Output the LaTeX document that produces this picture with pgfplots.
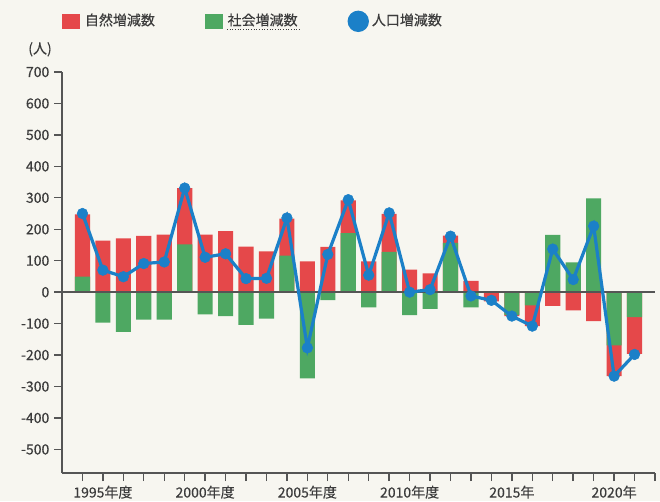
\documentclass[border=0pt]{standalone}
\usepackage{pgfplots}
\pgfplotsset{compat=1.18}
\usepackage{pgfplotstable}
\usepackage{fontspec}
\setmainfont{Noto Sans CJK JP}[FakeBold=0.35]
\definecolor{natred}{RGB}{229,72,74}
\definecolor{socgreen}{RGB}{78,168,98}
\definecolor{popblue}{RGB}{27,128,200}
\definecolor{axgray}{RGB}{85,85,85}
\definecolor{paper}{RGB}{247,246,240}
\definecolor{txt}{RGB}{60,60,60}

\pgfplotstableread{
year nat soc pop
1994 198 49 250
1995 164 -97 70
1996 171 -126 49
1997 179 -87 91
1998 183 -87 96
1999 179 152 331
2000 183 -71 111
2001 194 -76 122
2002 145 -104 43
2003 130 -84 44
2004 118 116 236
2005 98 -274 -177
2006 144 -25 120
2007 104 188 294
2008 98 -48 54
2009 121 128 252
2010 72 -73 0
2011 60 -53 8
2012 23 157 178
2013 36 -48 -12
2014 -29 3 -26
2015 -4 -72 -76
2016 -66 -42 -108
2017 -44 182 137
2018 -58 95 40
2019 -92 298 210
2020 -98 -169 -267
2021 -117 -79 -198
}\data

\begin{document}
\begin{tikzpicture}
\useasboundingbox[fill=paper] (-46.5pt,-21pt) rectangle (448.5pt,354.75pt);
\begin{axis}[
  at={(0,0)}, anchor=south west,
  scale only axis, width=444.75pt, height=300.75pt,
  xmin=1993, xmax=2022, ymin=-575, ymax=700,
  axis lines=left,
  axis line style={axgray, line width=1.2pt, -},
  xtick={1995,2000,...,2020},
  xticklabels={1995年度,2000年度,2005年度,2010年度,2015年,2020年},
  minor xtick={1994,...,2022},
  ytick={-500,-400,...,700},
  tick align=outside,
  major tick length=6pt, minor tick length=6pt,
  tick style={axgray, line width=1pt},
  tick label style={font=\fontsize{10.5}{12}\selectfont, text=txt},
  yticklabel style={/pgf/number format/assume math mode=true},
  clip=false,
  legend columns=3,
  legend style={at={(0,1)}, anchor=west, yshift=38pt, xshift=0pt,
    draw=none, fill=none, inner sep=0pt,
    font=\fontsize{10.5}{12}\selectfont, text=txt,
    /tikz/every even column/.append style={column sep=35.5pt}},
]
\addplot[ybar, bar width=0.74, bar shift=0pt, fill=natred, draw=none,
  legend image code/.code={\fill[natred] (0pt,-6.5pt) rectangle (13.5pt,5pt); \path (15pt,0pt);}]
  table[x=year, y expr={\thisrow{nat}*\thisrow{soc}>0 ? \thisrow{nat}+\thisrow{soc} : \thisrow{nat}}]{\data};
\addplot[ybar, bar width=0.74, bar shift=0pt, fill=socgreen, draw=none,
  legend image code/.code={\fill[socgreen] (0pt,-6.5pt) rectangle (13.5pt,5pt); \path (15pt,0pt);}]
  table[x=year, y=soc]{\data};
\draw[axgray, line width=1.2pt] (axis cs:1993,0) -- (axis cs:2022,0);
\addplot[popblue, line width=2.4pt, mark=*, mark size=4pt,
  mark options={fill=popblue, draw=popblue, line width=0.4pt},
  legend image code/.code={\fill[popblue] (6.8pt,-0.7pt) circle (6.8pt); \path (13.8pt,0pt);}]
  table[x=year, y=pop]{\data};
\legend{自然増減数, 社会増減数, 人口増減数}
\node[font=\fontsize{10.5}{12}\selectfont, text=txt] at (rel axis cs:0,1) [xshift=-16.5pt, yshift=17pt] {(人)};
\draw[txt, line width=0.8pt, dash pattern=on 0.8pt off 1.2pt] (rel axis cs:0.278,1) ++(0pt,32pt) -- ++(55pt,0pt);
\end{axis}
\end{tikzpicture}
\end{document}
